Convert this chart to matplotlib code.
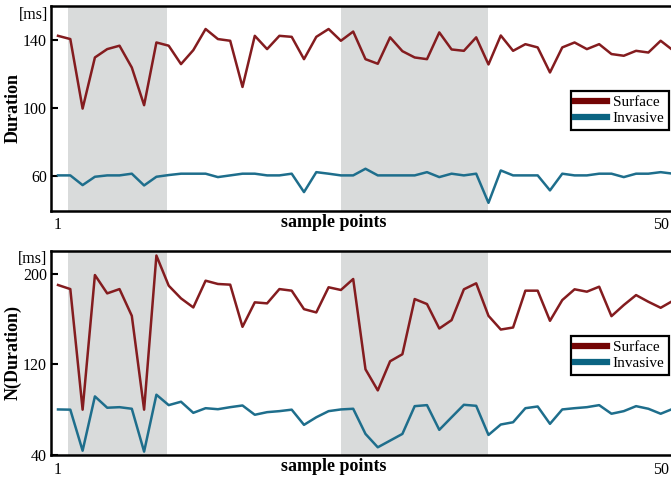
import matplotlib

matplotlib.use("Agg")
import matplotlib.pyplot as plt
import numpy as np

# ─── Data ─────────────────────────────────────────────────────────────
samples = np.arange(1, 52)

top_surface = [142.5, 140.6, 99.8, 129.8, 134.7, 136.7, 123.9, 101.8, 138.6, 136.7,
               125.9, 134.1, 146.5, 140.6, 139.6, 112.5, 142.5, 134.7, 142.5, 141.9,
               128.8, 141.9, 146.5, 139.6, 145.0, 128.8, 126.1, 141.6, 133.5, 129.8,
               128.8, 144.5, 134.5, 133.7, 141.6, 125.7, 142.7, 133.7, 137.6, 135.7,
               121.0, 135.7, 138.6, 134.7, 137.6, 131.8, 130.8, 133.7, 132.7, 139.6,
               134.0]
top_invasive = [60.6, 60.6, 54.9, 59.8, 60.6, 60.6, 61.6, 54.7, 59.8, 60.8,
                61.6, 61.6, 61.6, 59.6, 60.6, 61.6, 61.6, 60.6, 60.6, 61.6,
                50.8, 62.5, 61.6, 60.6, 60.6, 64.5, 60.6, 60.6, 60.6, 60.6,
                62.5, 59.6, 61.6, 60.6, 61.6, 44.5, 63.5, 60.6, 60.6, 60.6,
                51.8, 61.6, 60.6, 60.6, 61.6, 61.6, 59.6, 61.6, 61.6, 62.5,
                61.6]
bottom_surface = [190.0, 186.4, 80.0, 198.8, 182.6, 186.4, 162.8, 80.0, 216.0, 189.4,
                  178.2, 170.2, 193.8, 190.9, 190.3, 153.1, 174.7, 173.8, 186.4, 185.0,
                  168.7, 165.8, 188.0, 185.6, 195.3, 115.6, 97.0, 122.7, 128.9, 177.6,
                  173.2, 151.6, 159.0, 186.2, 191.5, 162.8, 150.7, 152.5, 185.0, 185.0,
                  158.4, 176.7, 186.2, 184.1, 188.5, 162.5, 172.3, 181.1, 175.2, 169.9,
                  176.1]
bottom_invasive = [80.2, 80.0, 43.8, 91.7, 81.7, 82.2, 80.8, 43.0, 93.2, 84.0,
                   87.0, 77.2, 81.3, 80.4, 82.2, 83.7, 75.5, 77.8, 78.7, 80.0,
                   66.6, 73.3, 78.7, 80.2, 80.8, 58.6, 46.8, 52.7, 58.6, 83.1,
                   84.0, 62.2, 73.3, 84.3, 83.4, 57.7, 66.9, 68.9, 81.3, 82.8,
                   67.5, 80.2, 81.3, 82.2, 84.0, 76.4, 78.7, 83.1, 80.8, 76.4,
                   80.8]

shaded_spans = [(1.8, 9.9), (24.0, 36.0)]
x_ticks = [1, 50]

top_yticks = [60, 100, 140]
bottom_yticks = [40, 120, 200]

# ─── Style ────────────────────────────────────────────────────────────
RED = "#841c1f"
BLUE = "#1e6e8c"
RED_LEG = "#730404"
BLUE_LEG = "#0b6482"
SHADE = "#d9dbdb"

plt.rcParams["font.family"] = ["Liberation Serif", "DejaVu Serif"]

fig = plt.figure(figsize=(6.71, 4.79), dpi=100)
W, H = 671, 479


def _axes_px(left, top, right, bottom):
    return fig.add_axes([left / W, 1 - bottom / H, (right - left) / W, (bottom - top) / H])


def _panel(ax, surface, invasive, ylim, yticks, ylabel):
    for lo, hi in shaded_spans:
        ax.axvspan(lo, hi, color=SHADE, lw=0, zorder=0)
    ax.plot(samples, surface, color=RED, lw=1.8, zorder=3)
    ax.plot(samples, invasive, color=BLUE, lw=1.8, zorder=3)

    ax.set_xlim(0.43, 50.84)
    ax.set_ylim(*ylim)
    ax.set_xticks(x_ticks)
    ax.set_yticks(yticks)
    ax.tick_params(axis="x", length=0, pad=5, labelsize=11.5)
    ax.tick_params(axis="y", direction="in", length=5, width=1.5, pad=3, labelsize=11.5)

    for side in ("left", "top", "bottom"):
        ax.spines[side].set_linewidth(1.8)
        ax.spines[side].set_color("black")
    ax.spines["right"].set_visible(False)

    ax.set_ylabel(ylabel, fontsize=13, fontweight="bold")
    ax.yaxis.set_label_coords(-0.047, 0.5)
    ax.set_xlabel("sample points", fontsize=13, fontweight="bold")
    ax.xaxis.set_label_coords(0.456, -0.017)

    handles = [plt.Line2D([], [], color=RED_LEG, lw=4.5),
               plt.Line2D([], [], color=BLUE_LEG, lw=4.5)]
    leg = ax.legend(handles, ["Surface", "Invasive"], loc="upper left",
                    bbox_to_anchor=(0.838, 0.584), fontsize=11, frameon=True,
                    fancybox=False, framealpha=1, edgecolor="black",
                    handlelength=2.1, handletextpad=0.35, labelspacing=0.15,
                    borderpad=0.3, borderaxespad=0)
    leg.get_frame().set_linewidth(1.6)
    leg.set_zorder(5)


ax_top = _axes_px(51, 6, 671, 210.5)
_panel(ax_top, top_surface, top_invasive, (40, 160), top_yticks, "Duration")

ax_bot = _axes_px(51, 251, 671, 455)
_panel(ax_bot, bottom_surface, bottom_invasive, (40, 220), bottom_yticks, "N(Duration)")

fig.text(34 / W, 1 - 15 / H, "[ms]", fontsize=11.5, ha="center", va="center")
fig.text(33 / W, 1 - 259 / H, "[ms]", fontsize=11.5, ha="center", va="center")

fig.savefig("out.png", dpi=100)
